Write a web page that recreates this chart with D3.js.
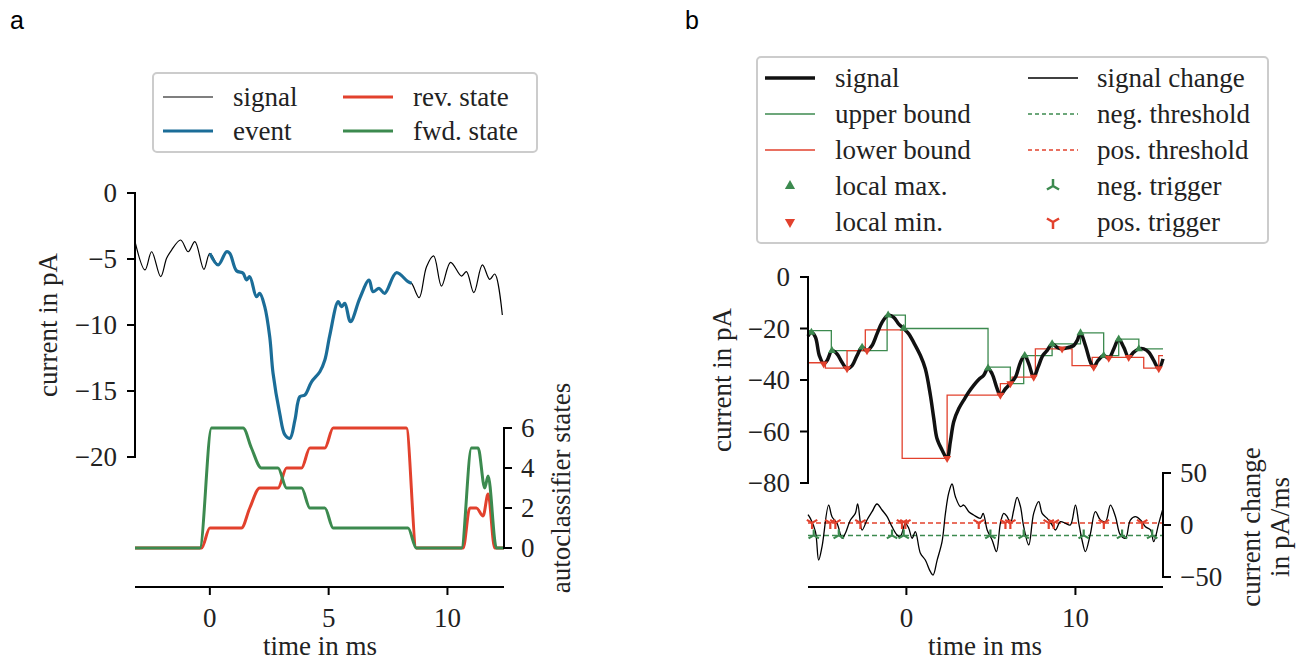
<!DOCTYPE html>
<html>
<head>
<meta charset="utf-8">
<script src="https://cdn.jsdelivr.net/npm/d3@7"></script>
<style>
  body { margin: 0; background: #fff; }
  text { font-family: "Liberation Serif", serif; fill: #222; }
  .panel-letter { font-family: "Liberation Sans", Arial, sans-serif; fill: #000; }
</style>
</head>
<body>
<svg id="fig" width="1297" height="661"></svg>
<script>
///panel a data: measured signal with the detected event, and the autoclassifier states
var sigT = [-3.15, -2.73, -2.45, -2.07, -1.82, -1.61, -1.23, -0.91, -0.63, -0.25, 0.0, 0.35, 0.70, 0.84, 1.12, 1.40, 1.54, 1.68, 1.96, 2.10, 2.31, 2.52, 2.66, 2.94, 3.16, 3.37, 3.58, 3.79, 4.00, 4.28, 4.63, 4.84, 5.05, 5.40, 5.54, 5.68, 5.92, 6.31, 6.70, 6.87, 7.12, 7.36, 7.85, 8.34, 8.49, 8.81, 9.12, 9.42, 9.75, 10.13, 10.59, 10.80, 11.11, 11.47, 11.78, 11.99, 12.31];
var sigV = [-3.69, -5.83, -4.45, -6.34, -4.95, -4.32, -3.56, -4.45, -3.69, -5.78, -4.57, -5.45, -4.45, -4.57, -5.89, -6.08, -6.59, -6.34, -7.86, -7.60, -8.61, -10.89, -13.66, -16.69, -18.33, -18.58, -17.20, -15.43, -15.30, -14.30, -13.54, -12.65, -10.76, -8.23, -8.61, -8.36, -9.75, -7.98, -6.59, -7.48, -7.22, -7.60, -6.04, -6.72, -6.84, -7.93, -5.58, -4.77, -7.05, -5.25, -6.29, -5.96, -7.55, -5.45, -6.54, -6.14, -9.24];
var eventStart = 0.0, eventEnd = 8.49;

var revT = [-3.15, -0.35, 0.0, 1.33, 1.68, 2.10, 2.87, 3.23, 3.86, 4.21, 4.84, 5.19, 8.27, 8.69, 10.66, 10.94, 11.22, 11.50, 11.71, 11.99, 12.38];
var revV = [0, 0, 1, 1, 2, 3, 3, 4, 4, 5, 5, 6, 6, 0, 0, 2, 2, 1.6, 2.7, 0, 0];
var fwdT = [-3.15, -0.42, 0.07, 1.40, 1.75, 2.17, 2.87, 3.23, 3.86, 4.21, 4.84, 5.19, 8.34, 8.69, 10.59, 11.01, 11.29, 11.57, 11.71, 12.06, 12.38];
var fwdV = [0, 0, 6, 6, 5, 4, 4, 3, 3, 2, 2, 1, 1, 0, 0, 5, 5, 3, 3.6, 0, 0];

var aTimeTicks = [0, 5, 10];
var aCurrentTicks = [0, -5, -10, -15, -20];
var aStateTicks = [0, 2, 4, 6];

///panel b data: signal, running bounds, extrema, signal change and triggers
var bSigT = [-5.82, -5.62, -5.38, -5.15, -4.89, -4.69, -4.40, -4.10, -3.81, -3.51, -3.21, -2.92, -2.62, -2.33, -2.03, -1.74, -1.44, -1.08, -0.75, -0.45, -0.16, 0.14, 0.43, 0.83, 1.12, 1.42, 1.62, 1.81, 2.11, 2.41, 2.60, 2.80, 3.10, 3.45, 3.69, 3.98, 4.28, 4.57, 4.83, 5.07, 5.37, 5.56, 5.86, 6.15, 6.45, 6.75, 7.00, 7.24, 7.53, 7.79, 8.07, 8.32, 8.62, 8.92, 9.21, 9.61, 9.90, 10.10, 10.30, 10.59, 10.89, 11.08, 11.34, 11.67, 11.97, 12.27, 12.56, 12.86, 13.15, 13.45, 13.75, 14.04, 14.34, 14.63, 14.93, 15.18];
var bSigV = [-23.0, -21.5, -23.4, -30.5, -33.7, -32.4, -28.6, -29.9, -33.1, -35.6, -34.4, -30.5, -27.3, -28.6, -26.6, -22.1, -17.6, -14.8, -15.7, -18.3, -20.0, -22.1, -25.4, -30.5, -35.6, -45.9, -54.9, -62.7, -67.2, -70.4, -64.0, -56.2, -51.1, -47.2, -44.7, -42.1, -39.8, -38.2, -35.4, -37.6, -43.4, -45.9, -43.4, -41.4, -38.9, -33.1, -30.5, -33.7, -38.9, -35.0, -30.5, -28.6, -26.0, -27.3, -27.9, -27.3, -26.6, -24.7, -21.7, -26.6, -33.1, -35.0, -32.4, -30.5, -31.5, -27.9, -24.1, -27.3, -31.2, -29.2, -27.9, -27.9, -29.2, -32.4, -35.6, -31.8];

var upperT = [-5.82, -4.44, -1.14, -0.06, 4.83, 6.15, 6.94, 8.62, 10.30, 11.67, 12.56, 13.75, 15.18];
var upperV = [-20.8, -28.6, -14.8, -20.0, -35.0, -41.4, -30.5, -26.0, -21.7, -30.5, -24.1, -27.9, -27.9];
var lowerT = [-5.82, -4.79, -3.51, -2.43, -0.25, 2.41, 5.56, 6.25, 7.63, 9.80, 10.99, 14.04, 14.93, 15.18];
var lowerV = [-33.3, -35.4, -28.6, -20.5, -70.4, -45.9, -41.4, -38.9, -27.9, -34.4, -31.2, -35.4, -30.5, -30.5];

var maxT = [-5.62, -4.40, -2.62, -1.08, -0.16, 4.83, 7.00, 8.62, 10.30, 11.67, 12.56, 13.75];
var maxV = [-21.5, -28.6, -27.3, -14.8, -20.0, -35.4, -30.5, -26.0, -21.7, -30.5, -24.1, -27.9];
var minT = [-4.89, -3.51, -2.33, 2.41, 5.56, 6.15, 7.53, 9.21, 11.08, 11.97, 13.15, 14.93];
var minV = [-33.7, -35.6, -28.6, -70.4, -45.9, -41.4, -38.9, -27.9, -35.0, -31.5, -31.2, -35.6];

var chgT = [-5.82, -5.68, -5.38, -5.19, -4.99, -4.60, -4.40, -4.10, -3.80, -3.61, -3.31, -3.02, -2.88, -2.62, -2.33, -2.03, -1.74, -1.44, -1.14, -0.85, -0.55, -0.36, -0.06, 0.14, 0.34, 0.53, 0.83, 1.12, 1.42, 1.58, 1.82, 2.11, 2.31, 2.50, 2.70, 2.90, 3.20, 3.39, 3.69, 3.98, 4.38, 4.54, 4.78, 5.07, 5.33, 5.56, 5.76, 5.96, 6.15, 6.35, 6.55, 6.75, 6.94, 7.24, 7.53, 7.83, 8.03, 8.33, 8.62, 8.82, 9.11, 9.41, 9.70, 10.00, 10.20, 10.39, 10.59, 10.89, 11.18, 11.48, 11.78, 12.07, 12.37, 12.66, 12.96, 13.25, 13.55, 13.85, 14.14, 14.44, 14.63, 14.93, 15.18];
var chgV = [10.0, 6.4, -6.4, -33.7, -20.8, 19.2, 8.0, 1.6, -12.8, -8.0, 4.8, 11.2, 20.2, -4.8, 4.8, 12.8, 20.2, 14.4, 8.0, -1.6, -9.6, -11.2, 1.6, -3.2, -12.8, -6.4, -27.2, -33.7, -44.9, -48.1, -33.7, -16.0, 11.2, 30.4, 39.4, 27.2, 17.6, 19.2, 12.8, 9.6, 6.4, 11.2, -4.8, -14.4, -25.6, 1.6, 11.2, 8.0, 1.6, 14.4, 26.6, 17.6, -1.6, -19.2, 11.2, 22.4, 11.2, 6.4, 0.0, -4.8, 3.2, 1.6, 0.0, 19.2, 1.6, -14.4, -25.6, -8.0, 12.8, 4.8, 3.2, 19.2, 8.0, -9.6, -12.8, 4.8, 8.0, 4.8, -1.6, -4.8, -16.0, 1.6, 16.0];

var posThreshold = 2, negThreshold = -10;
var posTrigT = [-5.58, -4.50, -4.20, -2.72, -0.26, -0.06, 4.28, 5.86, 6.15, 8.42, 8.72, 11.68, 13.95];
var negTrigT = [-5.48, -4.00, -0.85, -0.16, 4.97, 6.94, 10.49, 12.76, 14.54];

var bTimeTicks = [0, 10];
var bCurrentTicks = [0, -20, -40, -60, -80];
var bChangeTicks = [50, 0, -50];

var BLACK = '#000', BLUE = '#1b6d98', RED = '#e2412d', GREEN = '#3c8a4f';
var zip = (a, b) => a.map((t, i) => [t, b[i]]);

var svg = d3.select('#fig');

///helpers for the despined matplotlib look
function spineY(x, y0, y1) {
  svg.append('line').attr('x1', x).attr('x2', x).attr('y1', y0).attr('y2', y1)
    .attr('stroke', BLACK).attr('stroke-width', 2).attr('stroke-linecap', 'square');
}
function leftAxis(x, scale, ticks, fmt) {
  spineY(x, scale(d3.max(ticks)), scale(d3.min(ticks)));
  ticks.forEach(t => {
    svg.append('line').attr('x1', x - 8).attr('x2', x).attr('y1', scale(t)).attr('y2', scale(t))
      .attr('stroke', BLACK).attr('stroke-width', 2);
    svg.append('text').attr('x', x - 18).attr('y', scale(t)).attr('text-anchor', 'end')
      .attr('dominant-baseline', 'central').style('font-size', '27px').text(fmt(t));
  });
}
function rightAxis(x, scale, ticks, fmt) {
  spineY(x, scale(d3.max(ticks)), scale(d3.min(ticks)));
  ticks.forEach(t => {
    svg.append('line').attr('x1', x).attr('x2', x + 8).attr('y1', scale(t)).attr('y2', scale(t))
      .attr('stroke', BLACK).attr('stroke-width', 2);
    svg.append('text').attr('x', x + 17).attr('y', scale(t)).attr('text-anchor', 'start')
      .attr('dominant-baseline', 'central').style('font-size', '27px').text(fmt(t));
  });
}
function bottomAxis(y, scale, ticks) {
  var r = scale.range();
  svg.append('line').attr('x1', r[0]).attr('x2', r[1]).attr('y1', y).attr('y2', y)
    .attr('stroke', BLACK).attr('stroke-width', 2);
  ticks.forEach(t => {
    svg.append('line').attr('x1', scale(t)).attr('x2', scale(t)).attr('y1', y).attr('y2', y + 8)
      .attr('stroke', BLACK).attr('stroke-width', 2);
    svg.append('text').attr('x', scale(t)).attr('y', y + 31).attr('text-anchor', 'middle')
      .attr('dominant-baseline', 'central').style('font-size', '27px').text(fmtNum(t));
  });
}
function vLabel(x, y, txt) {
  svg.append('text').attr('transform', `translate(${x},${y}) rotate(-90)`)
    .attr('text-anchor', 'middle').attr('dominant-baseline', 'central')
    .style('font-size', '27px').text(txt);
}
function hLabel(x, y, txt) {
  svg.append('text').attr('x', x).attr('y', y).attr('text-anchor', 'middle')
    .style('font-size', '27px').text(txt);
}
var fmtNum = v => (v < 0 ? '\u2212' + Math.abs(v) : '' + v);

function triPath(r, up) {
  // matplotlib tri markers: '2' (up) for neg trigger, '1' (down) for pos trigger
  var s = up ? 1 : -1, c = 0.866 * r, h = 0.5 * r;
  return `M0,0L0,${-s * r}M0,0L${-c},${s * h}M0,0L${c},${s * h}`;
}

///panel a
var xa = d3.scaleLinear().domain([-3.15, 12.38]).range([135, 504]);
var ya = d3.scaleLinear().domain([0, -20]).range([193, 457]);
var ys = d3.scaleLinear().domain([0, 6]).range([548, 428]);

var lineA = d3.line().x(d => xa(d[0])).y(d => ya(d[1])).curve(d3.curveCatmullRom.alpha(0.5));
var lineS = d3.line().x(d => xa(d[0])).y(d => ys(d[1])).curve(d3.curveMonotoneX);

var sigA = zip(sigT, sigV);
svg.append('path').attr('d', lineA(sigA)).attr('fill', 'none').attr('stroke', BLACK).attr('stroke-width', 1.2);
svg.append('path').attr('d', lineA(sigA.filter(d => d[0] >= eventStart && d[0] <= eventEnd)))
  .attr('fill', 'none').attr('stroke', BLUE).attr('stroke-width', 3.2).attr('stroke-linejoin', 'round');
svg.append('path').attr('d', lineS(zip(revT, revV))).attr('fill', 'none').attr('stroke', RED).attr('stroke-width', 3);
svg.append('path').attr('d', lineS(zip(fwdT, fwdV))).attr('fill', 'none').attr('stroke', GREEN).attr('stroke-width', 3);

leftAxis(135, ya, aCurrentTicks, fmtNum);
rightAxis(504, ys, aStateTicks, fmtNum);
bottomAxis(587, xa, aTimeTicks);
vLabel(48, 325, 'current in pA');
vLabel(561, 488, 'autoclassifier states');
hLabel(320, 655, 'time in ms');

///panel b
var xb = d3.scaleLinear().domain([-5.82, 15.18]).range([808, 1163]);
var yb = d3.scaleLinear().domain([0, -80]).range([277, 483]);
var yc = d3.scaleLinear().domain([50, -50]).range([473, 577]);

var lineB = d3.line().x(d => xb(d[0])).y(d => yb(d[1])).curve(d3.curveCatmullRom.alpha(0.5));
var stepB = d3.line().x(d => xb(d[0])).y(d => yb(d[1])).curve(d3.curveStepAfter);
var lineC = d3.line().x(d => xb(d[0])).y(d => yc(d[1])).curve(d3.curveCatmullRom.alpha(0.5));

svg.append('path').attr('d', stepB(zip(upperT, upperV))).attr('fill', 'none').attr('stroke', GREEN).attr('stroke-width', 1.3);
svg.append('path').attr('d', stepB(zip(lowerT, lowerV))).attr('fill', 'none').attr('stroke', RED).attr('stroke-width', 1.3);
svg.append('path').attr('d', lineB(zip(bSigT, bSigV))).attr('fill', 'none').attr('stroke', '#111')
  .attr('stroke-width', 3.5).attr('stroke-linejoin', 'round');

var triUp = d3.symbol().type(d3.symbolTriangle).size(28);
svg.selectAll('path.lmax').data(zip(maxT, maxV)).enter().append('path').attr('class', 'lmax')
  .attr('d', triUp).attr('fill', GREEN)
  .attr('transform', d => `translate(${xb(d[0])},${yb(d[1])})`);
svg.selectAll('path.lmin').data(zip(minT, minV)).enter().append('path').attr('class', 'lmin')
  .attr('d', triUp).attr('fill', RED)
  .attr('transform', d => `translate(${xb(d[0])},${yb(d[1])}) rotate(180)`);

// signal change with thresholds and triggers
svg.append('line').attr('x1', xb.range()[0]).attr('x2', xb.range()[1])
  .attr('y1', yc(posThreshold)).attr('y2', yc(posThreshold))
  .attr('stroke', RED).attr('stroke-width', 1.5).attr('stroke-dasharray', '5,3');
svg.append('line').attr('x1', xb.range()[0]).attr('x2', xb.range()[1])
  .attr('y1', yc(negThreshold)).attr('y2', yc(negThreshold))
  .attr('stroke', GREEN).attr('stroke-width', 1.5).attr('stroke-dasharray', '5,3');
svg.append('path').attr('d', lineC(zip(chgT, chgV))).attr('fill', 'none').attr('stroke', BLACK).attr('stroke-width', 1.3);
svg.selectAll('path.ptrig').data(posTrigT).enter().append('path').attr('class', 'ptrig')
  .attr('d', triPath(6, false)).attr('stroke', RED).attr('stroke-width', 2.2).attr('fill', 'none')
  .attr('transform', d => `translate(${xb(d)},${yc(posThreshold)})`);
svg.selectAll('path.ntrig').data(negTrigT).enter().append('path').attr('class', 'ntrig')
  .attr('d', triPath(6, true)).attr('stroke', GREEN).attr('stroke-width', 2.2).attr('fill', 'none')
  .attr('transform', d => `translate(${xb(d)},${yc(negThreshold)})`);

leftAxis(808, yb, bCurrentTicks, fmtNum);
rightAxis(1163, yc, bChangeTicks, fmtNum);
bottomAxis(587, xb, bTimeTicks);
vLabel(722, 380, 'current in pA');
vLabel(1251, 527, 'current change');
vLabel(1280, 527, 'in pA/ms');
hLabel(985, 655, 'time in ms');

///legends
function legendBox(x, y, w, h) {
  svg.append('rect').attr('x', x).attr('y', y).attr('width', w).attr('height', h).attr('rx', 4)
    .attr('fill', '#fff').attr('stroke', '#cccccc').attr('stroke-width', 2);
}
function legendText(x, y, txt) {
  svg.append('text').attr('x', x).attr('y', y).attr('dominant-baseline', 'central')
    .style('font-size', '27px').text(txt);
}
function legendLine(x, y, color, width, dash) {
  svg.append('line').attr('x1', x).attr('x2', x + 50).attr('y1', y).attr('y2', y)
    .attr('stroke', color).attr('stroke-width', width).attr('stroke-dasharray', dash || null);
}

legendBox(153, 73, 384, 79);
[['signal', BLACK, 1.2, 163, 97], ['event', BLUE, 3, 163, 131],
 ['rev. state', RED, 3, 343, 97], ['fwd. state', GREEN, 3, 343, 131]].forEach(e => {
  legendLine(e[3], e[4], e[1], e[2]);
  legendText(e[3] + 70, e[4], e[0]);
});

legendBox(757, 57, 511, 186);
var bRows = [78, 114, 150, 186, 222];
legendLine(765, bRows[0], '#111', 3.5); legendText(835, bRows[0], 'signal');
legendLine(765, bRows[1], GREEN, 1.3); legendText(835, bRows[1], 'upper bound');
legendLine(765, bRows[2], RED, 1.3); legendText(835, bRows[2], 'lower bound');
svg.append('path').attr('d', d3.symbol().type(d3.symbolTriangle).size(45)).attr('fill', GREEN)
  .attr('transform', `translate(790,${bRows[3]})`);
legendText(835, bRows[3], 'local max.');
svg.append('path').attr('d', d3.symbol().type(d3.symbolTriangle).size(45)).attr('fill', RED)
  .attr('transform', `translate(790,${bRows[4]}) rotate(180)`);
legendText(835, bRows[4], 'local min.');

legendLine(1028, bRows[0], BLACK, 1.3); legendText(1097, bRows[0], 'signal change');
legendLine(1028, bRows[1], GREEN, 1.3, '4,3'); legendText(1097, bRows[1], 'neg. threshold');
legendLine(1028, bRows[2], RED, 1.3, '4,3'); legendText(1097, bRows[2], 'pos. threshold');
svg.append('path').attr('d', triPath(7, true)).attr('stroke', GREEN).attr('stroke-width', 2.5).attr('fill', 'none')
  .attr('transform', `translate(1053,${bRows[3]})`);
legendText(1097, bRows[3], 'neg. trigger');
svg.append('path').attr('d', triPath(7, false)).attr('stroke', RED).attr('stroke-width', 2.5).attr('fill', 'none')
  .attr('transform', `translate(1053,${bRows[4]})`);
legendText(1097, bRows[4], 'pos. trigger');

///panel letters
svg.append('text').attr('class', 'panel-letter').attr('x', 10).attr('y', 29).style('font-size', '25px').text('a');
svg.append('text').attr('class', 'panel-letter').attr('x', 685).attr('y', 29).style('font-size', '25px').text('b');
</script>
</body>
</html>
